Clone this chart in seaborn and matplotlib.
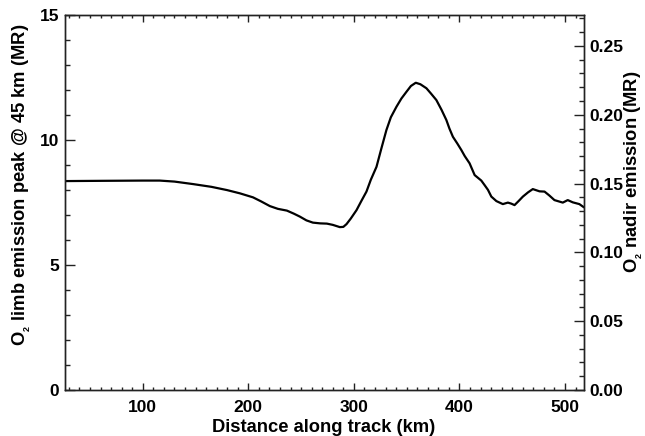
import numpy as np
import pandas as pd
import matplotlib
matplotlib.use("Agg")
import matplotlib.pyplot as plt
from matplotlib.ticker import MultipleLocator, FormatStrFormatter
import seaborn as sns

# Distance along track (km) and O2 limb emission peak at 45 km (MR)
distance_km = [26, 60, 100, 116, 130, 147.6, 165, 179.8, 192, 204.4, 212, 220.4,
               228, 236.5, 243, 248.8, 255, 261.1, 268, 274.4, 280, 286.7, 290,
               293, 297, 302.5, 307, 311.9, 316, 321.4, 326, 330.8, 335, 340.3,
               345, 349.8, 354, 358.6, 363, 368.7, 373, 378.1, 383, 387.6, 390.5,
               393.8, 398, 401.8, 405, 409.6, 414.4, 420.7, 423.8, 427, 430.2, 435,
               441.1, 445.9, 449, 452.2, 456, 460.1, 465, 469.5, 475.9, 480.6, 485,
               490, 497.9, 502.6, 507.4, 513.6, 518]
limb_mr = [8.35, 8.36, 8.37, 8.37, 8.33, 8.23, 8.12, 7.99, 7.86, 7.70, 7.54, 7.35,
           7.24, 7.17, 7.05, 6.93, 6.78, 6.69, 6.66, 6.65, 6.60, 6.51, 6.52,
           6.63, 6.85, 7.19, 7.55, 7.93, 8.40, 8.92, 9.65, 10.39, 10.90, 11.32,
           11.65, 11.92, 12.15, 12.28, 12.22, 12.06, 11.85, 11.59, 11.20, 10.79, 10.45,
           10.12, 9.85, 9.59, 9.35, 9.06, 8.59, 8.37, 8.19, 8.00, 7.73, 7.55,
           7.43, 7.49, 7.45, 7.39, 7.55, 7.73, 7.90, 8.03, 7.94, 7.93, 7.78,
           7.59, 7.49, 7.59, 7.50, 7.43, 7.30]

xlim = (26, 518)
left_lim = (0, 15)
right_lim = (0, 15 / 55)

sns.set_theme(style="ticks")
plt.rcParams["font.family"] = ["Liberation Sans", "DejaVu Sans"]
plt.rcParams["font.weight"] = "bold"
plt.rcParams["mathtext.fontset"] = "custom"
plt.rcParams["mathtext.rm"] = "Liberation Sans:bold"
plt.rcParams["mathtext.bf"] = "Liberation Sans:bold"
plt.rcParams["mathtext.it"] = "Liberation Sans:bold"
for key in ["text.color", "axes.labelcolor", "xtick.color", "ytick.color",
            "axes.edgecolor"]:
    plt.rcParams[key] = "black"

TICK_FS = 12.5
LABEL_FS = 13.2

df = pd.DataFrame({"distance": distance_km, "limb": limb_mr})

fig = plt.figure(figsize=(6.45, 4.36), dpi=100)
ax = fig.add_axes([64.7 / 645, 1 - 390 / 436, (584 - 64.7) / 645, (390 - 14.7) / 436])

sns.lineplot(data=df, x="distance", y="limb", ax=ax, color="black", linewidth=1.6)

ax.set_xlim(*xlim)
ax.set_ylim(*left_lim)

edge = "#222222"
for s in ax.spines.values():
    s.set_linewidth(1.0)
    s.set_color(edge)
    s.set_visible(True)

ax.xaxis.set_major_locator(MultipleLocator(100))
ax.xaxis.set_minor_locator(MultipleLocator(10))
ax.yaxis.set_major_locator(MultipleLocator(5))
ax.yaxis.set_minor_locator(MultipleLocator(1))

ax.tick_params(axis="x", which="both", direction="in", top=True, bottom=True,
               color=edge, labelsize=TICK_FS, pad=7)
ax.tick_params(axis="x", which="major", length=5, width=1)
ax.tick_params(axis="x", which="minor", length=2.5, width=1)
ax.tick_params(axis="y", which="both", direction="in", left=True, right=False,
               color=edge, labelsize=TICK_FS, pad=4)
ax.tick_params(axis="y", which="major", length=7, width=1)
ax.tick_params(axis="y", which="minor", length=3.6, width=1)

for lab in ax.get_xticklabels() + ax.get_yticklabels():
    lab.set_fontweight("bold")

ax.set_xlabel("Distance along track (km)", fontsize=LABEL_FS, fontweight="bold")
ax.set_ylabel(r"O$_{{}_2}$ limb emission peak @ 45 km (MR)", fontsize=LABEL_FS,
              fontweight="bold")
ax.xaxis.set_label_coords(0.498, -0.077)
ax.yaxis.set_label_coords(-0.062, 0.547)

ax2 = ax.twinx()
ax2.set_ylim(*right_lim)
ax2.yaxis.set_major_locator(MultipleLocator(0.05))
ax2.yaxis.set_minor_locator(MultipleLocator(0.01))
ax2.yaxis.set_major_formatter(FormatStrFormatter("%.2f"))
ax2.tick_params(axis="y", which="both", direction="in", right=True, left=False,
                color=edge, labelsize=TICK_FS, pad=4)
ax2.tick_params(axis="y", which="major", length=7, width=1)
ax2.tick_params(axis="y", which="minor", length=3.6, width=1)
for s in ax2.spines.values():
    s.set_linewidth(1.0)
    s.set_color(edge)
for lab in ax2.get_yticklabels():
    lab.set_fontweight("bold")
ax2.set_ylabel(r"O$_{{}_2}$ nadir emission (MR)", fontsize=LABEL_FS, fontweight="bold")
ax2.yaxis.set_label_coords(1.075, 0.582)

fig.savefig("out.png", dpi=100)
